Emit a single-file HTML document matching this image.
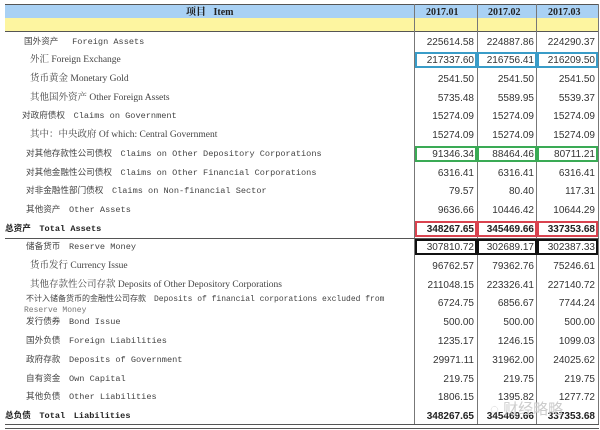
<!DOCTYPE html>
<html><head><meta charset="utf-8"><style>
body{margin:0;width:600px;height:430px;background:#fff;position:relative;overflow:hidden;font-family:"Liberation Sans","Noto Sans CJK SC",sans-serif;color:#333}
.a{position:absolute}
.hdr{left:5px;top:4px;width:594px;height:13px;background:#a9d1f4;border-top:1px solid #555}
.yel{left:5px;top:18px;width:594px;height:13px;background:#fdf5a0;border-bottom:1px solid #555}
.vl{position:absolute;width:1px;background:#777;top:4px;height:421px}
.ht{position:absolute;top:7px;font-family:"Liberation Serif","Noto Serif CJK SC",serif;font-weight:bold;font-size:10px;line-height:12px;color:#222}
.lab{position:absolute;font-size:8.6px;line-height:12px;white-space:nowrap;color:#444;font-family:"Liberation Mono","Noto Sans CJK SC",monospace}
.lab.s{font-family:"Liberation Serif","Noto Serif CJK SC",serif;font-size:9.5px}
.num{position:absolute;font-size:10px;line-height:12px;text-align:right;width:58px;color:#333}
.b{font-weight:bold;color:#222}
.box{position:absolute;height:16px;box-sizing:border-box;border:2px solid}
</style></head><body>
<div class="a hdr"></div><div class="a yel"></div>
<div class="vl" style="left:414px"></div><div class="vl" style="left:477px"></div><div class="vl" style="left:536px"></div><div class="vl" style="left:598px"></div>
<div class="ht" style="left:186px">项目 &nbsp; Item</div>
<div class="ht" style="left:426px">2017.01</div>
<div class="ht" style="left:488px">2017.02</div>
<div class="ht" style="left:548px">2017.03</div>
<div class="a" style="left:5px;top:238px;width:594px;height:1px;background:#555"></div>
<div class="a" style="left:5px;top:424px;width:594px;height:3px;border-top:1px solid #555;border-bottom:1px solid #555"></div>
<div id="rows"></div>
<script>
var R=[
[42,24,"国外资产　 Foreign Assets","","225614.58","224887.86","224290.37"],
[60,30,"外汇 Foreign Exchange","s","217337.60","216756.41","216209.50","#3a9cc8"],
[79,30,"货币黄金 Monetary Gold","s","2541.50","2541.50","2541.50"],
[98,30,"其他国外资产 Other Foreign Assets","s","5735.48","5589.95","5539.37"],
[116,22,"对政府债权　Claims on Government","","15274.09","15274.09","15274.09"],
[135,30,"其中：中央政府 Of which: Central Government","s","15274.09","15274.09","15274.09"],
[154,26,"对其他存款性公司债权　Claims on Other Depository Corporations","","91346.34","88464.46","80711.21","#3aaa55"],
[173,26,"对其他金融性公司债权　Claims on Other Financial Corporations","","6316.41","6316.41","6316.41"],
[191,26,"对非金融性部门债权　Claims on Non-financial Sector","","79.57","80.40","117.31"],
[210,26,"其他资产　Other Assets","","9636.66","10446.42","10644.29"],
[229,5,"总资产　Total Assets","b","348267.65","345469.66","337353.68","#d9434f"],
[247,26,"储备货币　Reserve Money","","307810.72","302689.17","302387.33","#111"],
[266,30,"货币发行 Currency Issue","s","96762.57","79362.76","75246.61"],
[285,30,"其他存款性公司存款 Deposits of Other Depository Corporations","s","211048.15","223326.41","227140.72"],
[303,26,"不计入储备货币的金融性公司存款　Deposits of financial corporations excluded from","x","6724.75","6856.67","7744.24"],
[322,26,"发行债券　Bond Issue","","500.00","500.00","500.00"],
[341,26,"国外负债　Foreign Liabilities","","1235.17","1246.15","1099.03"],
[360,26,"政府存款　Deposits of Government","","29971.11","31962.00","24025.62"],
[379,26,"自有资金　Own Capital","","219.75","219.75","219.75"],
[397,26,"其他负债　Other Liabilities","","1806.15","1395.82","1277.72"],
[416,5,"总负债　Total　Liabilities","b","348267.65","345469.66","337353.68"]];
var h="";
R.forEach(function(r){
 var y=r[0]-6, cls=r[3]=="s"?"lab s":(r[3]=="b"?"lab b":"lab"), st="";
 if(r[3]=="x"){y-=3;st="font-size:8px;";}
 h+='<div class="'+cls+'" style="'+st+'left:'+r[1]+'px;top:'+y+'px">'+r[2]+'</div>';
 if(r[7]){
  h+='<div class="box" style="left:415px;top:'+(r[0]-8)+'px;width:62px;border-color:'+r[7]+'"></div>';
  h+='<div class="box" style="left:477px;top:'+(r[0]-8)+'px;width:60px;border-color:'+r[7]+'"></div>';
  h+='<div class="box" style="left:537px;top:'+(r[0]-8)+'px;width:61px;border-color:'+r[7]+'"></div>';
 }
 var nb=r[3]=="b"?" b":"";
 h+='<div class="num'+nb+'" style="left:416px;top:'+(r[0]-5)+'px">'+r[4]+'</div>';
 h+='<div class="num'+nb+'" style="left:476px;top:'+(r[0]-5)+'px">'+r[5]+'</div>';
 h+='<div class="num'+nb+'" style="left:537px;top:'+(r[0]-5)+'px">'+r[6]+'</div>';
});
h+='<div class="lab" style="left:24px;top:305px;font-size:8px;color:#777">Reserve Money</div>';
h+='<div class="a" style="left:490px;top:398px;font-size:15px;color:#ccc">◌ 财经略略</div>';
document.getElementById("rows").innerHTML=h;
</script>
</body></html>
